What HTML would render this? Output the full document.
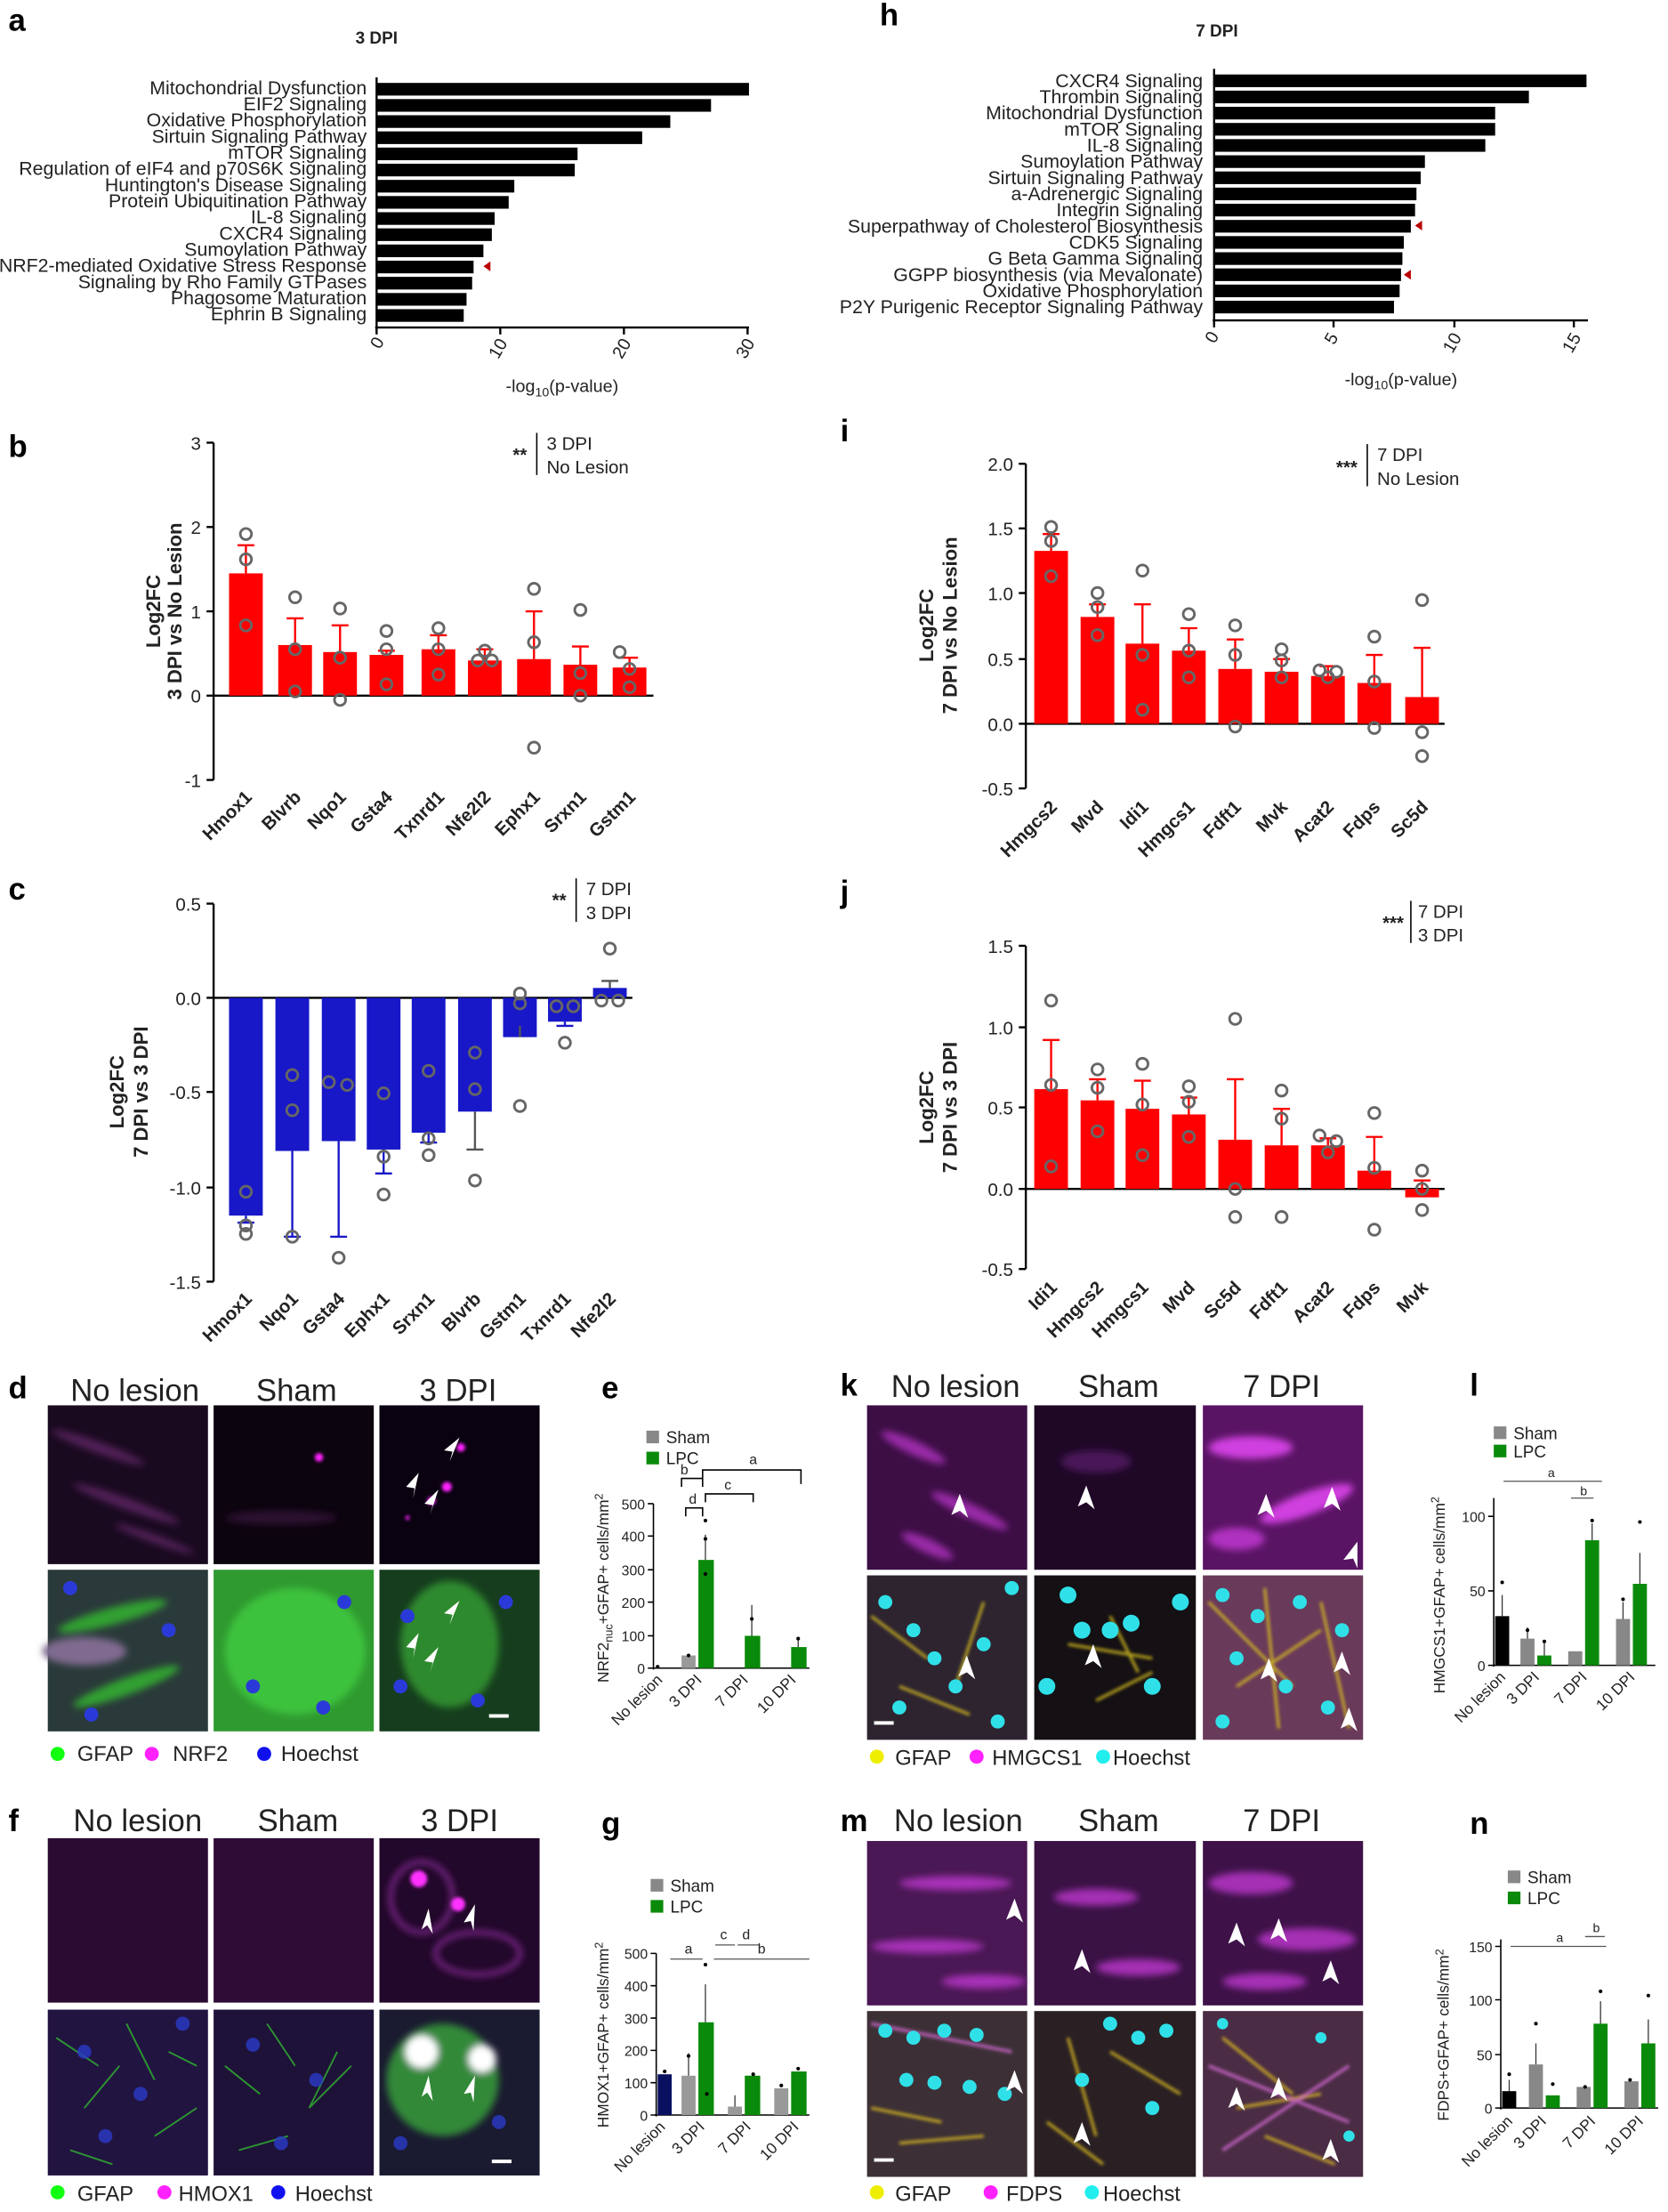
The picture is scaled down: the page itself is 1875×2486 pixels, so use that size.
<!DOCTYPE html>
<html><head><meta charset="utf-8"><style>
html,body{margin:0;padding:0;background:#fff}
svg{display:block}
text{font-family:"Liberation Sans Narrow","Liberation Sans",sans-serif;fill:#222}
.b{font-weight:bold}
.lbl{font-family:"Liberation Sans",sans-serif;font-weight:bold;font-size:22px;fill:#000}
</style></head><body>
<svg width="1875" height="2486" viewBox="0 0 1187 1574" preserveAspectRatio="none" xmlns="http://www.w3.org/2000/svg">
<defs>
<filter id="bl" x="-20%" y="-20%" width="140%" height="140%"><feGaussianBlur stdDeviation="2.5"/></filter>
<filter id="bl2"><feGaussianBlur stdDeviation="1.2"/></filter>
</defs>

<text class="lbl" x="6" y="22">a</text>
<text class="lbl" x="626" y="18">h</text>
<text class="lbl" x="6" y="325">b</text>
<text class="lbl" x="598" y="314">i</text>
<text class="lbl" x="6" y="640">c</text>
<text class="lbl" x="598" y="642">j</text>
<text class="lbl" x="6" y="995">d</text>
<text class="lbl" x="428" y="995">e</text>
<text class="lbl" x="598" y="993">k</text>
<text class="lbl" x="1046" y="993">l</text>
<text class="lbl" x="6" y="1303">f</text>
<text class="lbl" x="428" y="1305">g</text>
<text class="lbl" x="598" y="1303">m</text>
<text class="lbl" x="1046" y="1305">n</text>

<!-- ===== Panel a ===== -->
<text x="268" y="31" font-size="12" class="b" text-anchor="middle">3 DPI</text>
<g font-size="13.5" text-anchor="end">
<text x="261" y="67">Mitochondrial Dysfunction</text>
<text x="261" y="78.5">EIF2 Signaling</text>
<text x="261" y="90">Oxidative Phosphorylation</text>
<text x="261" y="101.5">Sirtuin Signaling Pathway</text>
<text x="261" y="113">mTOR Signaling</text>
<text x="261" y="124.5">Regulation of eIF4 and p70S6K Signaling</text>
<text x="261" y="136">Huntington's Disease Signaling</text>
<text x="261" y="147.5">Protein Ubiquitination Pathway</text>
<text x="261" y="159">IL-8 Signaling</text>
<text x="261" y="170.5">CXCR4 Signaling</text>
<text x="261" y="182">Sumoylation Pathway</text>
<text x="261" y="193.5">NRF2-mediated Oxidative Stress Response</text>
<text x="261" y="205">Signaling by Rho Family GTPases</text>
<text x="261" y="216.5">Phagosome Maturation</text>
<text x="261" y="228">Ephrin B Signaling</text>
</g>
<g fill="#000">
<rect x="268" y="59" width="265" height="9"/>
<rect x="268" y="70.5" width="238" height="9"/>
<rect x="268" y="82" width="209" height="9"/>
<rect x="268" y="93.5" width="189" height="9"/>
<rect x="268" y="105" width="143" height="9"/>
<rect x="268" y="116.5" width="141" height="9"/>
<rect x="268" y="128" width="98" height="9"/>
<rect x="268" y="139.5" width="94" height="9"/>
<rect x="268" y="151" width="84" height="9"/>
<rect x="268" y="162.5" width="82" height="9"/>
<rect x="268" y="174" width="76" height="9"/>
<rect x="268" y="185.5" width="69" height="9"/>
<rect x="268" y="197" width="68" height="9"/>
<rect x="268" y="208.5" width="64" height="9"/>
<rect x="268" y="220" width="62" height="9"/>
</g>
<polygon points="344,189.5 349,186 349,193" fill="#b00"/>
<g stroke="#000" stroke-width="1.5" fill="none">
<line x1="268" y1="55" x2="268" y2="236"/>
<line x1="267" y1="233" x2="533" y2="233"/>
<line x1="268" y1="233" x2="268" y2="238"/><line x1="356" y1="233" x2="356" y2="238"/><line x1="444" y1="233" x2="444" y2="238"/><line x1="532" y1="233" x2="532" y2="238"/>
</g>
<g font-size="12.5">
<text transform="translate(272,246) rotate(-60)" text-anchor="middle">0</text>
<text transform="translate(358,250) rotate(-60)" text-anchor="middle">10</text>
<text transform="translate(446,250) rotate(-60)" text-anchor="middle">20</text>
<text transform="translate(534,250) rotate(-60)" text-anchor="middle">30</text>
<text x="400" y="279" text-anchor="middle">-log<tspan font-size="9" dy="3">10</tspan><tspan dy="-3">(p-value)</tspan></text>
</g>

<!-- ===== Panel h ===== -->
<text x="866" y="26" font-size="12" class="b" text-anchor="middle">7 DPI</text>
<g font-size="13.5" text-anchor="end">
<text x="856" y="62">CXCR4 Signaling</text>
<text x="856" y="73.5">Thrombin Signaling</text>
<text x="856" y="85">Mitochondrial Dysfunction</text>
<text x="856" y="96.5">mTOR Signaling</text>
<text x="856" y="108">IL-8 Signaling</text>
<text x="856" y="119.5">Sumoylation Pathway</text>
<text x="856" y="131">Sirtuin Signaling Pathway</text>
<text x="856" y="142.5">a-Adrenergic Signaling</text>
<text x="856" y="154">Integrin Signaling</text>
<text x="856" y="165.5">Superpathway of Cholesterol Biosynthesis</text>
<text x="856" y="177">CDK5 Signaling</text>
<text x="856" y="188.5">G Beta Gamma Signaling</text>
<text x="856" y="200">GGPP biosynthesis (via Mevalonate)</text>
<text x="856" y="211.5">Oxidative Phosphorylation</text>
<text x="856" y="223">P2Y Purigenic Receptor Signaling Pathway</text>
</g>
<g fill="#000">
<rect x="864" y="53" width="265" height="9"/>
<rect x="864" y="64.5" width="224" height="9"/>
<rect x="864" y="76" width="200" height="9"/>
<rect x="864" y="87.5" width="200" height="9"/>
<rect x="864" y="99" width="193" height="9"/>
<rect x="864" y="110.5" width="150" height="9"/>
<rect x="864" y="122" width="147" height="9"/>
<rect x="864" y="133.5" width="144" height="9"/>
<rect x="864" y="145" width="143" height="9"/>
<rect x="864" y="156.5" width="140" height="9"/>
<rect x="864" y="168" width="135" height="9"/>
<rect x="864" y="179.5" width="134" height="9"/>
<rect x="864" y="191" width="133" height="9"/>
<rect x="864" y="202.5" width="132" height="9"/>
<rect x="864" y="214" width="128" height="9"/>
</g>
<polygon points="1007,160.5 1012,157 1012,164" fill="#b00"/>
<polygon points="999,195.5 1004,192 1004,199" fill="#b00"/>
<g stroke="#000" stroke-width="1.5" fill="none">
<line x1="864" y1="49" x2="864" y2="231"/>
<line x1="863" y1="228" x2="1130" y2="228"/>
<line x1="864" y1="228" x2="864" y2="233"/><line x1="949" y1="228" x2="949" y2="233"/><line x1="1035" y1="228" x2="1035" y2="233"/><line x1="1120" y1="228" x2="1120" y2="233"/>
</g>
<g font-size="12.5">
<text transform="translate(866,242) rotate(-60)" text-anchor="middle">0</text>
<text transform="translate(951,243) rotate(-60)" text-anchor="middle">5</text>
<text transform="translate(1037,246) rotate(-60)" text-anchor="middle">10</text>
<text transform="translate(1122,246) rotate(-60)" text-anchor="middle">15</text>
<text x="997" y="274" text-anchor="middle">-log<tspan font-size="9" dy="3">10</tspan><tspan dy="-3">(p-value)</tspan></text>
</g>

<!-- ===== Panel b ===== -->
<g stroke="#000" stroke-width="1.5" fill="none">
<line x1="152" y1="315" x2="152" y2="555"/>
<line x1="147" y1="315" x2="152" y2="315"/><line x1="147" y1="375" x2="152" y2="375"/><line x1="147" y1="435" x2="152" y2="435"/><line x1="147" y1="495" x2="152" y2="495"/><line x1="147" y1="555" x2="152" y2="555"/>
<line x1="152" y1="495" x2="465" y2="495"/>
</g>
<g font-size="13" text-anchor="end"><text x="143" y="320">3</text><text x="143" y="380">2</text><text x="143" y="440">1</text><text x="143" y="500">0</text><text x="143" y="560">-1</text></g>
<text transform="translate(114,435) rotate(-90)" font-size="14" class="b" text-anchor="middle">Log2FC</text>
<text transform="translate(129,435) rotate(-90)" font-size="14" class="b" text-anchor="middle">3 DPI vs No Lesion</text>
<text x="375" y="328" font-size="13" class="b" text-anchor="end">**</text>
<line x1="382" y1="308" x2="382" y2="338" stroke="#000"/>
<text x="389" y="320" font-size="13">3 DPI</text><text x="389" y="337" font-size="13">No Lesion</text>
<g fill="#f00">
<rect x="163" y="408" width="24" height="87"/><rect x="198" y="459" width="24" height="36"/><rect x="230" y="464" width="24" height="31"/><rect x="263" y="466" width="24" height="29"/><rect x="300" y="462" width="24" height="33"/><rect x="333" y="470" width="24" height="25"/><rect x="368" y="469" width="24" height="26"/><rect x="401" y="473" width="24" height="22"/><rect x="436" y="475" width="24" height="20"/>
</g>
<g stroke="#f00" stroke-width="1.5">
<path d="M175 408V388M169 388h12M210 459V440M204 440h12M242 464V445M236 445h12M275 466V463M269 463h12M312 462V452M306 452h12M345 470V462M339 462h12M380 469V435M374 435h12M413 473V460M407 460h12M448 475V468M442 468h12"/>
</g>
<g fill="none" stroke="#666" stroke-width="1.8">
<circle cx="175" cy="380" r="4"/><circle cx="175" cy="398" r="4"/><circle cx="175" cy="445" r="4"/>
<circle cx="210" cy="425" r="4"/><circle cx="210" cy="462" r="4"/><circle cx="210" cy="492" r="4"/>
<circle cx="242" cy="433" r="4"/><circle cx="242" cy="468" r="4"/><circle cx="242" cy="498" r="4"/>
<circle cx="275" cy="449" r="4"/><circle cx="275" cy="462" r="4"/><circle cx="275" cy="487" r="4"/>
<circle cx="312" cy="447" r="4"/><circle cx="312" cy="462" r="4"/><circle cx="312" cy="480" r="4"/>
<circle cx="345" cy="463" r="4"/><circle cx="350" cy="470" r="4"/><circle cx="340" cy="470" r="4"/>
<circle cx="380" cy="419" r="4"/><circle cx="380" cy="457" r="4"/><circle cx="380" cy="532" r="4"/>
<circle cx="413" cy="434" r="4"/><circle cx="413" cy="479" r="4"/><circle cx="413" cy="495" r="4"/>
<circle cx="441" cy="464" r="4"/><circle cx="448" cy="476" r="4"/><circle cx="448" cy="489" r="4"/>
</g>
<g font-size="13" class="b" text-anchor="end">
<text transform="translate(180,568) rotate(-45)">Hmox1</text><text transform="translate(215,568) rotate(-45)">Blvrb</text><text transform="translate(247,568) rotate(-45)">Nqo1</text><text transform="translate(280,568) rotate(-45)">Gsta4</text><text transform="translate(317,568) rotate(-45)">Txnrd1</text><text transform="translate(350,568) rotate(-45)">Nfe2l2</text><text transform="translate(385,568) rotate(-45)">Ephx1</text><text transform="translate(418,568) rotate(-45)">Srxn1</text><text transform="translate(453,568) rotate(-45)">Gstm1</text>
</g>

<!-- ===== Panel c ===== -->
<g stroke="#000" stroke-width="1.5" fill="none">
<line x1="152" y1="643" x2="152" y2="912"/>
<line x1="147" y1="643" x2="152" y2="643"/><line x1="147" y1="710" x2="152" y2="710"/><line x1="147" y1="777" x2="152" y2="777"/><line x1="147" y1="845" x2="152" y2="845"/><line x1="147" y1="912" x2="152" y2="912"/>
<line x1="152" y1="710" x2="450" y2="710"/>
</g>
<g font-size="13" text-anchor="end"><text x="143" y="648">0.5</text><text x="143" y="715">0.0</text><text x="143" y="782">-0.5</text><text x="143" y="850">-1.0</text><text x="143" y="917">-1.5</text></g>
<text transform="translate(88,777) rotate(-90)" font-size="14" class="b" text-anchor="middle">Log2FC</text>
<text transform="translate(105,777) rotate(-90)" font-size="14" class="b" text-anchor="middle">7 DPI vs 3 DPI</text>
<text x="403" y="645" font-size="13" class="b" text-anchor="end">**</text>
<line x1="410" y1="625" x2="410" y2="656" stroke="#000"/>
<text x="417" y="637" font-size="13">7 DPI</text><text x="417" y="654" font-size="13">3 DPI</text>
<g fill="#1818c8">
<rect x="163" y="710" width="24" height="155"/><rect x="196" y="710" width="24" height="109"/><rect x="229" y="710" width="24" height="102"/><rect x="261" y="710" width="24" height="108"/><rect x="293" y="710" width="24" height="96"/><rect x="326" y="710" width="24" height="81"/><rect x="358" y="710" width="24" height="28"/><rect x="390" y="710" width="24" height="17"/><rect x="422" y="703" width="24" height="7"/>
</g>
<g stroke="#1818c8" stroke-width="1.5">
<path d="M175 865V870M169 870h12M208 819V880M202 880h12M241 812V880M235 880h12M273 818V835M267 835h12M305 806V813M299 813h12M382 738V738M402 727V730M396 730h12"/>
</g>
<g stroke="#555" stroke-width="1.5"><path d="M338 791V818M332 818h12M370 738V730M434 703V698M428 698h12"/></g>
<g fill="none" stroke="#666" stroke-width="1.8">
<circle cx="175" cy="848" r="4"/><circle cx="175" cy="872" r="4"/><circle cx="175" cy="878" r="4"/>
<circle cx="208" cy="765" r="4"/><circle cx="208" cy="790" r="4"/><circle cx="208" cy="880" r="4"/>
<circle cx="234" cy="770" r="4"/><circle cx="247" cy="772" r="4"/><circle cx="241" cy="895" r="4"/>
<circle cx="273" cy="778" r="4"/><circle cx="273" cy="823" r="4"/><circle cx="273" cy="850" r="4"/>
<circle cx="305" cy="762" r="4"/><circle cx="305" cy="810" r="4"/><circle cx="305" cy="822" r="4"/>
<circle cx="338" cy="749" r="4"/><circle cx="338" cy="775" r="4"/><circle cx="338" cy="840" r="4"/>
<circle cx="370" cy="707" r="4"/><circle cx="370" cy="714" r="4"/><circle cx="370" cy="787" r="4"/>
<circle cx="396" cy="716" r="4"/><circle cx="408" cy="716" r="4"/><circle cx="402" cy="742" r="4"/>
<circle cx="434" cy="675" r="4"/><circle cx="428" cy="712" r="4"/><circle cx="440" cy="712" r="4"/>
</g>
<g font-size="13" class="b" text-anchor="end">
<text transform="translate(180,925) rotate(-45)">Hmox1</text><text transform="translate(213,925) rotate(-45)">Nqo1</text><text transform="translate(246,925) rotate(-45)">Gsta4</text><text transform="translate(278,925) rotate(-45)">Ephx1</text><text transform="translate(310,925) rotate(-45)">Srxn1</text><text transform="translate(343,925) rotate(-45)">Blvrb</text><text transform="translate(375,925) rotate(-45)">Gstm1</text><text transform="translate(407,925) rotate(-45)">Txnrd1</text><text transform="translate(439,925) rotate(-45)">Nfe2l2</text>
</g>

<!-- ===== Panel i ===== -->
<g stroke="#000" stroke-width="1.5" fill="none">
<line x1="730" y1="330" x2="730" y2="561"/>
<line x1="725" y1="330" x2="730" y2="330"/><line x1="725" y1="376" x2="730" y2="376"/><line x1="725" y1="422" x2="730" y2="422"/><line x1="725" y1="469" x2="730" y2="469"/><line x1="725" y1="515" x2="730" y2="515"/><line x1="725" y1="561" x2="730" y2="561"/>
<line x1="730" y1="515" x2="1028" y2="515"/>
</g>
<g font-size="13" text-anchor="end"><text x="721" y="335">2.0</text><text x="721" y="381">1.5</text><text x="721" y="427">1.0</text><text x="721" y="474">0.5</text><text x="721" y="520">0.0</text><text x="721" y="566">-0.5</text></g>
<text transform="translate(664,445) rotate(-90)" font-size="14" class="b" text-anchor="middle">Log2FC</text>
<text transform="translate(681,445) rotate(-90)" font-size="14" class="b" text-anchor="middle">7 DPI vs No Lesion</text>
<text x="966" y="337" font-size="13" class="b" text-anchor="end">***</text>
<line x1="973" y1="316" x2="973" y2="346" stroke="#000"/>
<text x="980" y="328" font-size="13">7 DPI</text><text x="980" y="345" font-size="13">No Lesion</text>
<g fill="#f00">
<rect x="736" y="392" width="24" height="123"/><rect x="769" y="439" width="24" height="76"/><rect x="801" y="458" width="24" height="57"/><rect x="834" y="463" width="24" height="52"/><rect x="867" y="476" width="24" height="39"/><rect x="900" y="478" width="24" height="37"/><rect x="933" y="481" width="24" height="34"/><rect x="966" y="486" width="24" height="29"/><rect x="1000" y="496" width="24" height="19"/>
</g>
<g stroke="#f00" stroke-width="1.5">
<path d="M748 392V380M742 380h12M781 439V430M775 430h12M813 458V430M807 430h12M846 463V447M840 447h12M879 476V455M873 455h12M912 478V469M906 469h12M945 481V474M939 474h12M978 486V466M972 466h12M1012 496V461M1006 461h12"/>
</g>
<g fill="none" stroke="#666" stroke-width="1.8">
<circle cx="748" cy="375" r="4"/><circle cx="748" cy="385" r="4"/><circle cx="748" cy="410" r="4"/>
<circle cx="781" cy="422" r="4"/><circle cx="781" cy="432" r="4"/><circle cx="781" cy="452" r="4"/>
<circle cx="813" cy="406" r="4"/><circle cx="813" cy="466" r="4"/><circle cx="813" cy="505" r="4"/>
<circle cx="846" cy="437" r="4"/><circle cx="846" cy="463" r="4"/><circle cx="846" cy="482" r="4"/>
<circle cx="879" cy="445" r="4"/><circle cx="879" cy="466" r="4"/><circle cx="879" cy="517" r="4"/>
<circle cx="912" cy="462" r="4"/><circle cx="912" cy="470" r="4"/><circle cx="912" cy="482" r="4"/>
<circle cx="939" cy="477" r="4"/><circle cx="951" cy="478" r="4"/><circle cx="945" cy="482" r="4"/>
<circle cx="978" cy="453" r="4"/><circle cx="978" cy="485" r="4"/><circle cx="978" cy="518" r="4"/>
<circle cx="1012" cy="427" r="4"/><circle cx="1012" cy="521" r="4"/><circle cx="1012" cy="538" r="4"/>
</g>
<g font-size="13" class="b" text-anchor="end">
<text transform="translate(753,575) rotate(-45)">Hmgcs2</text><text transform="translate(786,575) rotate(-45)">Mvd</text><text transform="translate(818,575) rotate(-45)">Idi1</text><text transform="translate(851,575) rotate(-45)">Hmgcs1</text><text transform="translate(884,575) rotate(-45)">Fdft1</text><text transform="translate(917,575) rotate(-45)">Mvk</text><text transform="translate(950,575) rotate(-45)">Acat2</text><text transform="translate(983,575) rotate(-45)">Fdps</text><text transform="translate(1017,575) rotate(-45)">Sc5d</text>
</g>

<!-- ===== Panel j ===== -->
<g stroke="#000" stroke-width="1.5" fill="none">
<line x1="730" y1="673" x2="730" y2="903"/>
<line x1="725" y1="673" x2="730" y2="673"/><line x1="725" y1="731" x2="730" y2="731"/><line x1="725" y1="788" x2="730" y2="788"/><line x1="725" y1="846" x2="730" y2="846"/><line x1="725" y1="903" x2="730" y2="903"/>
<line x1="730" y1="846" x2="1028" y2="846"/>
</g>
<g font-size="13" text-anchor="end"><text x="721" y="678">1.5</text><text x="721" y="736">1.0</text><text x="721" y="793">0.5</text><text x="721" y="851">0.0</text><text x="721" y="908">-0.5</text></g>
<text transform="translate(664,788) rotate(-90)" font-size="14" class="b" text-anchor="middle">Log2FC</text>
<text transform="translate(681,788) rotate(-90)" font-size="14" class="b" text-anchor="middle">7 DPI vs 3 DPI</text>
<text x="999" y="661" font-size="13" class="b" text-anchor="end">***</text>
<line x1="1004" y1="641" x2="1004" y2="671" stroke="#000"/>
<text x="1009" y="653" font-size="13">7 DPI</text><text x="1009" y="670" font-size="13">3 DPI</text>
<g fill="#f00">
<rect x="736" y="775" width="24" height="71"/><rect x="769" y="783" width="24" height="63"/><rect x="801" y="789" width="24" height="57"/><rect x="834" y="793" width="24" height="53"/><rect x="867" y="811" width="24" height="35"/><rect x="900" y="815" width="24" height="31"/><rect x="933" y="815" width="24" height="31"/><rect x="966" y="833" width="24" height="13"/><rect x="1000" y="846" width="24" height="6"/>
</g>
<g stroke="#f00" stroke-width="1.5">
<path d="M748 775V740M742 740h12M781 783V768M775 768h12M813 789V769M807 769h12M846 793V781M840 781h12M879 811V768M873 768h12M912 815V789M906 789h12M945 815V810M939 810h12M978 833V809M972 809h12M1012 846V840M1006 840h12"/>
</g>
<g fill="none" stroke="#666" stroke-width="1.8">
<circle cx="748" cy="712" r="4"/><circle cx="748" cy="772" r="4"/><circle cx="748" cy="830" r="4"/>
<circle cx="781" cy="761" r="4"/><circle cx="781" cy="774" r="4"/><circle cx="781" cy="805" r="4"/>
<circle cx="813" cy="757" r="4"/><circle cx="813" cy="786" r="4"/><circle cx="813" cy="822" r="4"/>
<circle cx="846" cy="773" r="4"/><circle cx="846" cy="784" r="4"/><circle cx="846" cy="809" r="4"/>
<circle cx="879" cy="725" r="4"/><circle cx="879" cy="846" r="4"/><circle cx="879" cy="866" r="4"/>
<circle cx="912" cy="776" r="4"/><circle cx="912" cy="796" r="4"/><circle cx="912" cy="866" r="4"/>
<circle cx="939" cy="808" r="4"/><circle cx="951" cy="812" r="4"/><circle cx="945" cy="820" r="4"/>
<circle cx="978" cy="792" r="4"/><circle cx="978" cy="831" r="4"/><circle cx="978" cy="875" r="4"/>
<circle cx="1012" cy="833" r="4"/><circle cx="1012" cy="846" r="4"/><circle cx="1012" cy="861" r="4"/>
</g>
<g font-size="13" class="b" text-anchor="end">
<text transform="translate(753,917) rotate(-45)">Idi1</text><text transform="translate(786,917) rotate(-45)">Hmgcs2</text><text transform="translate(818,917) rotate(-45)">Hmgcs1</text><text transform="translate(851,917) rotate(-45)">Mvd</text><text transform="translate(884,917) rotate(-45)">Sc5d</text><text transform="translate(917,917) rotate(-45)">Fdft1</text><text transform="translate(950,917) rotate(-45)">Acat2</text><text transform="translate(983,917) rotate(-45)">Fdps</text><text transform="translate(1017,917) rotate(-45)">Mvk</text>
</g>

<!-- ===== Panel d images ===== -->
<g font-size="22" text-anchor="middle">
<text x="96" y="997">No lesion</text><text x="211" y="997">Sham</text><text x="326" y="997">3 DPI</text>
</g>
<rect x="34" y="1000" width="114" height="113" fill="#1a0a20"/>
<rect x="152" y="1000" width="114" height="113" fill="#0c040e"/>
<rect x="270" y="1000" width="114" height="113" fill="#0a0210"/>
<g filter="url(#bl)" fill="#6a2a70" opacity="0.7">
<ellipse cx="70" cy="1030" rx="35" ry="4" transform="rotate(20 70 1030)"/><ellipse cx="90" cy="1070" rx="40" ry="4" transform="rotate(20 90 1070)"/><ellipse cx="110" cy="1095" rx="30" ry="3" transform="rotate(20 110 1095)"/>
<ellipse cx="200" cy="1080" rx="40" ry="5" fill="#3a1240"/>
</g>
<g fill="#ff20ff" filter="url(#bl2)">
<circle cx="227" cy="1037" r="3"/><circle cx="318" cy="1058" r="3.5"/><circle cx="328" cy="1030" r="3"/><circle cx="307" cy="1068" r="3"/><circle cx="290" cy="1080" r="1.5"/>
</g>
<rect x="34" y="1117" width="114" height="115" fill="#2a3a3a"/>
<rect x="152" y="1117" width="114" height="115" fill="#2f9a30"/>
<rect x="270" y="1117" width="114" height="115" fill="#163e1e"/>
<g filter="url(#bl)">
<ellipse cx="80" cy="1150" rx="40" ry="6" fill="#30a030" transform="rotate(-15 80 1150)"/>
<ellipse cx="90" cy="1200" rx="40" ry="6" fill="#30a030" transform="rotate(-20 90 1200)"/>
<ellipse cx="60" cy="1175" rx="30" ry="10" fill="#806a90"/>
<ellipse cx="210" cy="1175" rx="50" ry="45" fill="#3cc23c"/>
<ellipse cx="320" cy="1170" rx="35" ry="45" fill="#2e8a2e"/>
</g>
<g fill="#2a3ad8">
<circle cx="50" cy="1130" r="5"/><circle cx="120" cy="1160" r="5"/><circle cx="65" cy="1220" r="5"/><circle cx="180" cy="1200" r="5"/><circle cx="245" cy="1140" r="5"/><circle cx="230" cy="1215" r="5"/><circle cx="290" cy="1150" r="5"/><circle cx="360" cy="1140" r="5"/><circle cx="340" cy="1210" r="5"/><circle cx="285" cy="1200" r="5"/>
</g>
<line x1="348" y1="1221" x2="362" y2="1221" stroke="#fff" stroke-width="2.5"/>
<g fill="#fff">
<polygon points="327,1023 316,1032 322,1033 320,1040"/>
<polygon points="298,1048 289,1058 295,1059 294,1066"/>
<polygon points="312,1060 302,1070 308,1071 306,1078"/>
<polygon points="327,1139 316,1148 322,1149 320,1156"/>
<polygon points="298,1162 289,1172 295,1173 294,1180"/>
<polygon points="312,1172 302,1182 308,1183 306,1190"/>
</g>
<g font-size="15"><circle cx="41" cy="1248" r="5" fill="#1f1"/><text x="55" y="1253">GFAP</text><circle cx="108" cy="1248" r="5" fill="#f2f"/><text x="123" y="1253">NRF2</text><circle cx="188" cy="1248" r="5" fill="#11e"/><text x="200" y="1253">Hoechst</text></g>

<!-- ===== Panel f images ===== -->
<g font-size="22" text-anchor="middle">
<text x="98" y="1303">No lesion</text><text x="212" y="1303">Sham</text><text x="327" y="1303">3 DPI</text>
</g>
<rect x="34" y="1308" width="114" height="117" fill="#2a0b32"/>
<rect x="152" y="1308" width="114" height="117" fill="#2e0c36"/>
<rect x="270" y="1308" width="114" height="117" fill="#22082a"/>
<g filter="url(#bl)" fill="#a030b0" opacity="0.8">
<ellipse cx="300" cy="1350" rx="22" ry="25" fill="none" stroke="#a030b0" stroke-width="3"/>
<ellipse cx="340" cy="1390" rx="30" ry="15" fill="none" stroke="#a030b0" stroke-width="3"/>
</g>
<g fill="#ff30ff" filter="url(#bl2)"><circle cx="298" cy="1337" r="6"/><circle cx="326" cy="1355" r="5"/></g>
<rect x="34" y="1430" width="114" height="118" fill="#221440"/>
<rect x="152" y="1430" width="114" height="118" fill="#1e1238"/>
<rect x="270" y="1430" width="114" height="118" fill="#1a1a30"/>
<g stroke="#30b830" stroke-width="1.2" fill="none" opacity="0.8">
<path d="M40 1450l30 20M60 1500l25-30M90 1440l20 40M110 1520l30-20M50 1530l30 10M120 1460l20 10M160 1470l25 20M190 1440l20 30M220 1500l30-30M170 1530l35-10M240 1460l-20 40"/>
</g>
<g filter="url(#bl)"><ellipse cx="315" cy="1480" rx="40" ry="40" fill="#3cb83c" opacity="0.7"/><circle cx="300" cy="1460" r="12" fill="#fff"/><circle cx="343" cy="1465" r="10" fill="#fff"/></g>
<g fill="#2a3ac8" opacity="0.8">
<circle cx="60" cy="1460" r="5"/><circle cx="100" cy="1490" r="5"/><circle cx="75" cy="1520" r="5"/><circle cx="130" cy="1440" r="5"/><circle cx="180" cy="1455" r="5"/><circle cx="225" cy="1480" r="5"/><circle cx="200" cy="1525" r="5"/><circle cx="355" cy="1510" r="5"/><circle cx="285" cy="1525" r="5"/>
</g>
<line x1="350" y1="1538" x2="364" y2="1538" stroke="#fff" stroke-width="2.5"/>
<g fill="#fff">
<polygon points="305,1358 300,1373 304,1370 308,1376"/><polygon points="338,1355 330,1368 335,1367 337,1374"/>
<polygon points="305,1477 300,1492 304,1489 308,1495"/><polygon points="338,1477 330,1490 335,1489 337,1496"/>
</g>
<g font-size="15"><circle cx="41" cy="1560" r="5" fill="#1f1"/><text x="55" y="1566">GFAP</text><circle cx="117" cy="1560" r="5" fill="#f2f"/><text x="127" y="1566">HMOX1</text><circle cx="198" cy="1560" r="5" fill="#11e"/><text x="210" y="1566">Hoechst</text></g>

<!-- ===== Panel k images ===== -->
<g font-size="22" text-anchor="middle">
<text x="680" y="994">No lesion</text><text x="796" y="994">Sham</text><text x="912" y="994">7 DPI</text>
</g>
<rect x="617" y="1000" width="114" height="117" fill="#3c0e44"/>
<rect x="736" y="1000" width="115" height="117" fill="#1e0826"/>
<rect x="856" y="1000" width="114" height="117" fill="#5a1464"/>
<g filter="url(#bl)">
<ellipse cx="650" cy="1030" rx="25" ry="5" fill="#9a2aa8" transform="rotate(25 650 1030)"/><ellipse cx="690" cy="1075" rx="30" ry="5" fill="#9a2aa8" transform="rotate(25 690 1075)"/><ellipse cx="660" cy="1100" rx="20" ry="5" fill="#9a2aa8" transform="rotate(25 660 1100)"/>
<ellipse cx="780" cy="1040" rx="25" ry="8" fill="#4a1658"/>
<ellipse cx="890" cy="1030" rx="30" ry="8" fill="#d040e0"/><ellipse cx="930" cy="1070" rx="35" ry="8" fill="#d040e0" transform="rotate(-20 930 1070)"/><ellipse cx="880" cy="1095" rx="20" ry="8" fill="#b030c0"/>
</g>
<rect x="617" y="1121" width="114" height="117" fill="#2e2430"/>
<rect x="736" y="1121" width="115" height="117" fill="#141014"/>
<rect x="856" y="1121" width="114" height="117" fill="#6a3a5a"/>
<g filter="url(#bl2)" stroke="#d8c020" stroke-width="2" fill="none" opacity="0.85">
<path d="M620 1150l40 30M640 1200l50 20M700 1140l-20 60M760 1170l60 10M790 1150l20 40M780 1210l40-20M860 1140l60 60M880 1200l60-40M900 1130l10 100M940 1140l20 90"/>
</g>
<g fill="#30e0e8">
<circle cx="630" cy="1140" r="5"/><circle cx="650" cy="1160" r="5"/><circle cx="665" cy="1180" r="5"/><circle cx="680" cy="1200" r="5"/><circle cx="700" cy="1170" r="5"/><circle cx="720" cy="1130" r="5"/><circle cx="640" cy="1215" r="5"/><circle cx="710" cy="1225" r="5"/>
<circle cx="760" cy="1135" r="6"/><circle cx="790" cy="1160" r="6"/><circle cx="805" cy="1155" r="6"/><circle cx="770" cy="1160" r="6"/><circle cx="820" cy="1200" r="6"/><circle cx="840" cy="1140" r="6"/><circle cx="745" cy="1200" r="6"/>
<circle cx="870" cy="1135" r="5"/><circle cx="895" cy="1150" r="5"/><circle cx="925" cy="1140" r="5"/><circle cx="955" cy="1160" r="5"/><circle cx="880" cy="1180" r="5"/><circle cx="915" cy="1200" r="5"/><circle cx="945" cy="1215" r="5"/><circle cx="870" cy="1225" r="5"/>
</g>
<line x1="622" y1="1226" x2="636" y2="1226" stroke="#fff" stroke-width="2.5"/>
<g fill="#fff">
<polygon points="683,1063 677,1078 683,1075 689,1080"/><polygon points="773,1057 767,1072 773,1069 779,1074"/><polygon points="901,1063 895,1078 901,1075 907,1080"/><polygon points="948,1058 942,1073 948,1070 954,1075"/><polygon points="966,1097 956,1110 963,1109 966,1116"/>
<polygon points="688,1178 682,1193 688,1190 694,1195"/><polygon points="778,1170 772,1185 778,1182 784,1187"/><polygon points="903,1180 897,1195 903,1192 909,1197"/><polygon points="955,1175 949,1190 955,1187 961,1192"/><polygon points="960,1215 954,1230 960,1227 966,1232"/>
</g>
<g font-size="15"><circle cx="624" cy="1250" r="5" fill="#ee0"/><text x="637" y="1256">GFAP</text><circle cx="695" cy="1250" r="5" fill="#f2f"/><text x="706" y="1256">HMGCS1</text><circle cx="785" cy="1250" r="5" fill="#2ee"/><text x="792" y="1256">Hoechst</text></g>

<!-- ===== Panel m images ===== -->
<g font-size="22" text-anchor="middle">
<text x="682" y="1303">No lesion</text><text x="796" y="1303">Sham</text><text x="912" y="1303">7 DPI</text>
</g>
<rect x="617" y="1310" width="114" height="117" fill="#4a1854"/>
<rect x="736" y="1310" width="115" height="117" fill="#3a1244"/>
<rect x="856" y="1310" width="114" height="117" fill="#3e1248"/>
<g filter="url(#bl)" fill="#c038d0" opacity="0.8">
<ellipse cx="680" cy="1340" rx="40" ry="5"/><ellipse cx="660" cy="1385" rx="40" ry="5"/><ellipse cx="700" cy="1410" rx="30" ry="5"/>
<ellipse cx="780" cy="1350" rx="30" ry="6"/><ellipse cx="810" cy="1400" rx="30" ry="6"/>
<ellipse cx="890" cy="1340" rx="30" ry="8"/><ellipse cx="930" cy="1380" rx="35" ry="8"/><ellipse cx="900" cy="1410" rx="30" ry="6"/>
</g>
<rect x="617" y="1431" width="114" height="118" fill="#3c3036"/>
<rect x="736" y="1431" width="115" height="118" fill="#2a2024"/>
<rect x="856" y="1431" width="114" height="118" fill="#4a2c44"/>
<g filter="url(#bl2)" stroke="#e0c020" stroke-width="2" fill="none" opacity="0.85">
<path d="M620 1500l50 10M640 1525l60-5M760 1450l20 70M790 1460l50 30M745 1510l40 30M870 1450l50 40M880 1500l60-10M900 1520l50 20"/>
</g>
<g filter="url(#bl2)" stroke="#e070e0" stroke-width="2.5" fill="none" opacity="0.7"><path d="M860 1470l100 40M870 1530l90-60M620 1440l100 20"/></g>
<g fill="#30e0e8">
<circle cx="630" cy="1445" r="5"/><circle cx="650" cy="1450" r="5"/><circle cx="672" cy="1445" r="5"/><circle cx="695" cy="1448" r="5"/><circle cx="645" cy="1480" r="5"/><circle cx="665" cy="1482" r="5"/><circle cx="690" cy="1485" r="5"/><circle cx="715" cy="1490" r="5"/>
<circle cx="790" cy="1440" r="5"/><circle cx="810" cy="1450" r="5"/><circle cx="830" cy="1445" r="5"/><circle cx="770" cy="1480" r="5"/><circle cx="820" cy="1500" r="5"/>
<circle cx="870" cy="1440" r="4"/><circle cx="940" cy="1450" r="4"/><circle cx="960" cy="1520" r="4"/>
</g>
<line x1="622" y1="1537" x2="636" y2="1537" stroke="#fff" stroke-width="2.5"/>
<g fill="#fff">
<polygon points="722,1351 716,1366 722,1363 728,1368"/><polygon points="770,1387 764,1402 770,1399 776,1404"/><polygon points="880,1368 874,1383 880,1380 886,1385"/><polygon points="910,1365 904,1380 910,1377 916,1382"/><polygon points="947,1395 941,1410 947,1407 953,1412"/>
<polygon points="722,1473 716,1488 722,1485 728,1490"/><polygon points="770,1510 764,1525 770,1522 776,1527"/><polygon points="880,1485 874,1500 880,1497 886,1502"/><polygon points="910,1478 904,1493 910,1490 916,1495"/><polygon points="947,1522 941,1537 947,1534 953,1539"/>
</g>
<g font-size="15"><circle cx="624" cy="1560" r="5" fill="#ee0"/><text x="637" y="1566">GFAP</text><circle cx="705" cy="1560" r="5" fill="#f2f"/><text x="716" y="1566">FDPS</text><circle cx="777" cy="1560" r="5" fill="#2ee"/><text x="785" y="1566">Hoechst</text></g>

<!-- ===== Panel e ===== -->
<rect x="460" y="1018" width="9" height="9" fill="#888"/><text x="474" y="1027" font-size="12">Sham</text>
<rect x="460" y="1033" width="9" height="9" fill="#0a8a0a"/><text x="474" y="1042" font-size="12">LPC</text>
<g stroke="#000" stroke-width="1" fill="none">
<line x1="465" y1="1070" x2="465" y2="1188"/><line x1="464" y1="1187" x2="576" y2="1187"/>
<path d="M461 1070h4M461 1093h4M461 1117h4M461 1140h4M461 1164h4M461 1187h4"/>
<path d="M485 1058v-6h15v6M500 1056v-10h70v10M502 1069v-6h34v6M488 1079v-6h12v6"/>
</g>
<g font-size="10" text-anchor="end"><text x="459" y="1074">500</text><text x="459" y="1097">400</text><text x="459" y="1121">300</text><text x="459" y="1144">200</text><text x="459" y="1168">100</text><text x="459" y="1191">0</text></g>
<g font-size="10" text-anchor="middle"><text x="487" y="1049">b</text><text x="536" y="1042">a</text><text x="518" y="1060">c</text><text x="493" y="1070">d</text></g>
<rect x="485" y="1178" width="10" height="9" fill="#999"/>
<rect x="497" y="1110" width="11" height="77" fill="#0a8a0a"/>
<rect x="530" y="1164" width="11" height="23" fill="#0a8a0a"/>
<rect x="563" y="1172" width="11" height="15" fill="#0a8a0a"/>
<g stroke="#333" stroke-width="0.8"><path d="M502 1110v-18M535 1164v-22M568 1172v-6"/></g>
<g fill="#000"><circle cx="502" cy="1082" r="1.3"/><circle cx="502" cy="1095" r="1.3"/><circle cx="502" cy="1120" r="1.3"/><circle cx="535" cy="1152" r="1.3"/><circle cx="568" cy="1166" r="1.3"/><circle cx="490" cy="1178" r="1.3"/><circle cx="468" cy="1186" r="1.3"/></g>
<text transform="translate(433,1130) rotate(-90)" font-size="11" text-anchor="middle">NRF2<tspan font-size="8" dy="3">nuc</tspan><tspan dy="-3">+GFAP+ cells/mm</tspan><tspan font-size="8" dy="-4">2</tspan></text>
<g font-size="11" text-anchor="end"><text transform="translate(472,1196) rotate(-45)">No lesion</text><text transform="translate(500,1196) rotate(-45)">3 DPI</text><text transform="translate(533,1196) rotate(-45)">7 DPI</text><text transform="translate(567,1196) rotate(-45)">10 DPI</text></g>

<!-- ===== Panel g ===== -->
<rect x="463" y="1337" width="9" height="9" fill="#888"/><text x="477" y="1346" font-size="12">Sham</text>
<rect x="463" y="1352" width="9" height="9" fill="#0a8a0a"/><text x="477" y="1361" font-size="12">LPC</text>
<g stroke="#000" stroke-width="1" fill="none">
<line x1="467" y1="1390" x2="467" y2="1506"/><line x1="466" y1="1505" x2="576" y2="1505"/>
<path d="M463 1390h4M463 1413h4M463 1436h4M463 1459h4M463 1482h4M463 1505h4"/>
</g>
<g stroke="#555" stroke-width="0.8" fill="none"><path d="M477 1394h23M509 1384h14M525 1384h15M508 1394h68"/></g>
<g font-size="10" text-anchor="end"><text x="461" y="1394">500</text><text x="461" y="1417">400</text><text x="461" y="1440">300</text><text x="461" y="1463">200</text><text x="461" y="1486">100</text><text x="461" y="1509">0</text></g>
<g font-size="10" text-anchor="middle"><text x="490" y="1390">a</text><text x="515" y="1380">c</text><text x="531" y="1380">d</text><text x="542" y="1390">b</text></g>
<rect x="468" y="1476" width="10" height="29" fill="#0a1060"/>
<rect x="485" y="1477" width="10" height="28" fill="#999"/>
<rect x="497" y="1439" width="11" height="66" fill="#0a8a0a"/>
<rect x="518" y="1499" width="10" height="6" fill="#999"/>
<rect x="530" y="1477" width="11" height="28" fill="#0a8a0a"/>
<rect x="551" y="1486" width="10" height="19" fill="#999"/>
<rect x="563" y="1474" width="11" height="31" fill="#0a8a0a"/>
<g stroke="#333" stroke-width="0.8"><path d="M502 1439v-27M490 1477v-16M523 1499v-8"/></g>
<g fill="#000"><circle cx="502" cy="1398" r="1.3"/><circle cx="490" cy="1463" r="1.3"/><circle cx="503" cy="1490" r="1.3"/><circle cx="473" cy="1474" r="1.3"/><circle cx="536" cy="1476" r="1.3"/><circle cx="568" cy="1472" r="1.3"/><circle cx="556" cy="1484" r="1.3"/></g>
<text transform="translate(433,1448) rotate(-90)" font-size="11" text-anchor="middle">HMOX1+GFAP+ cells/mm<tspan font-size="8" dy="-4">2</tspan></text>
<g font-size="11" text-anchor="end"><text transform="translate(474,1514) rotate(-45)">No lesion</text><text transform="translate(502,1514) rotate(-45)">3 DPI</text><text transform="translate(535,1514) rotate(-45)">7 DPI</text><text transform="translate(569,1514) rotate(-45)">10 DPI</text></g>

<!-- ===== Panel l ===== -->
<rect x="1063" y="1015" width="9" height="9" fill="#888"/><text x="1077" y="1024" font-size="12">Sham</text>
<rect x="1063" y="1028" width="9" height="9" fill="#0a8a0a"/><text x="1077" y="1037" font-size="12">LPC</text>
<g stroke="#000" stroke-width="1" fill="none">
<line x1="1063" y1="1066" x2="1063" y2="1186"/><line x1="1062" y1="1185" x2="1178" y2="1185"/>
<path d="M1059 1079h4M1059 1132h4M1059 1185h4"/>
</g>
<g stroke="#555" stroke-width="0.8" fill="none"><path d="M1070 1054h70M1118 1066h16"/></g>
<g font-size="10" text-anchor="end"><text x="1057" y="1083">100</text><text x="1057" y="1136">50</text><text x="1057" y="1189">0</text></g>
<g font-size="9" text-anchor="middle"><text x="1104" y="1051">a</text><text x="1127" y="1064">b</text></g>
<rect x="1064" y="1150" width="10" height="35" fill="#000"/>
<rect x="1082" y="1166" width="10" height="19" fill="#888"/>
<rect x="1094" y="1178" width="10" height="7" fill="#0a8a0a"/>
<rect x="1116" y="1175" width="10" height="10" fill="#888"/>
<rect x="1128" y="1096" width="10" height="89" fill="#0a8a0a"/>
<rect x="1150" y="1152" width="10" height="33" fill="#888"/>
<rect x="1162" y="1127" width="10" height="58" fill="#0a8a0a"/>
<g stroke="#333" stroke-width="0.8"><path d="M1069 1150v-15M1087 1166v-8M1099 1178v-10M1133 1096v-12M1155 1152v-12M1167 1127v-22"/></g>
<g fill="#000"><circle cx="1069" cy="1126" r="1.3"/><circle cx="1087" cy="1160" r="1.3"/><circle cx="1099" cy="1168" r="1.3"/><circle cx="1133" cy="1082" r="1.3"/><circle cx="1155" cy="1138" r="1.3"/><circle cx="1167" cy="1083" r="1.3"/></g>
<text transform="translate(1028,1135) rotate(-90)" font-size="11" text-anchor="middle">HMGCS1+GFAP+ cells/mm<tspan font-size="8" dy="-4">2</tspan></text>
<g font-size="11" text-anchor="end"><text transform="translate(1072,1194) rotate(-45)">No lesion</text><text transform="translate(1096,1194) rotate(-45)">3 DPI</text><text transform="translate(1130,1194) rotate(-45)">7 DPI</text><text transform="translate(1164,1194) rotate(-45)">10 DPI</text></g>

<!-- ===== Panel n ===== -->
<rect x="1073" y="1331" width="9" height="9" fill="#888"/><text x="1087" y="1340" font-size="12">Sham</text>
<rect x="1073" y="1346" width="9" height="9" fill="#0a8a0a"/><text x="1087" y="1355" font-size="12">LPC</text>
<g stroke="#000" stroke-width="1" fill="none">
<line x1="1068" y1="1380" x2="1068" y2="1501"/><line x1="1067" y1="1500" x2="1180" y2="1500"/>
<path d="M1064 1385h4M1064 1423h4M1064 1462h4M1064 1500h4"/>
</g>
<g stroke="#555" stroke-width="0.8" fill="none"><path d="M1075 1385h68M1128 1378h14"/></g>
<g font-size="10" text-anchor="end"><text x="1062" y="1389">150</text><text x="1062" y="1427">100</text><text x="1062" y="1466">50</text><text x="1062" y="1504">0</text></g>
<g font-size="9" text-anchor="middle"><text x="1110" y="1382">a</text><text x="1136" y="1375">b</text></g>
<rect x="1069" y="1488" width="10" height="12" fill="#000"/>
<rect x="1088" y="1469" width="10" height="31" fill="#888"/>
<rect x="1100" y="1491" width="10" height="9" fill="#0a8a0a"/>
<rect x="1122" y="1485" width="10" height="15" fill="#888"/>
<rect x="1134" y="1440" width="10" height="60" fill="#0a8a0a"/>
<rect x="1156" y="1481" width="10" height="19" fill="#888"/>
<rect x="1168" y="1454" width="10" height="46" fill="#0a8a0a"/>
<g stroke="#333" stroke-width="0.8"><path d="M1074 1488v-8M1093 1469v-15M1139 1440v-16M1173 1454v-17"/></g>
<g fill="#000"><circle cx="1074" cy="1476" r="1.3"/><circle cx="1093" cy="1440" r="1.3"/><circle cx="1105" cy="1483" r="1.3"/><circle cx="1139" cy="1417" r="1.3"/><circle cx="1173" cy="1420" r="1.3"/><circle cx="1128" cy="1485" r="1.3"/><circle cx="1160" cy="1480" r="1.3"/></g>
<text transform="translate(1031,1448) rotate(-90)" font-size="11" text-anchor="middle">FDPS+GFAP+ cells/mm<tspan font-size="8" dy="-4">2</tspan></text>
<g font-size="11" text-anchor="end"><text transform="translate(1077,1510) rotate(-45)">No lesion</text><text transform="translate(1101,1510) rotate(-45)">3 DPI</text><text transform="translate(1136,1510) rotate(-45)">7 DPI</text><text transform="translate(1170,1510) rotate(-45)">10 DPI</text></g>
</svg>
</body></html>
